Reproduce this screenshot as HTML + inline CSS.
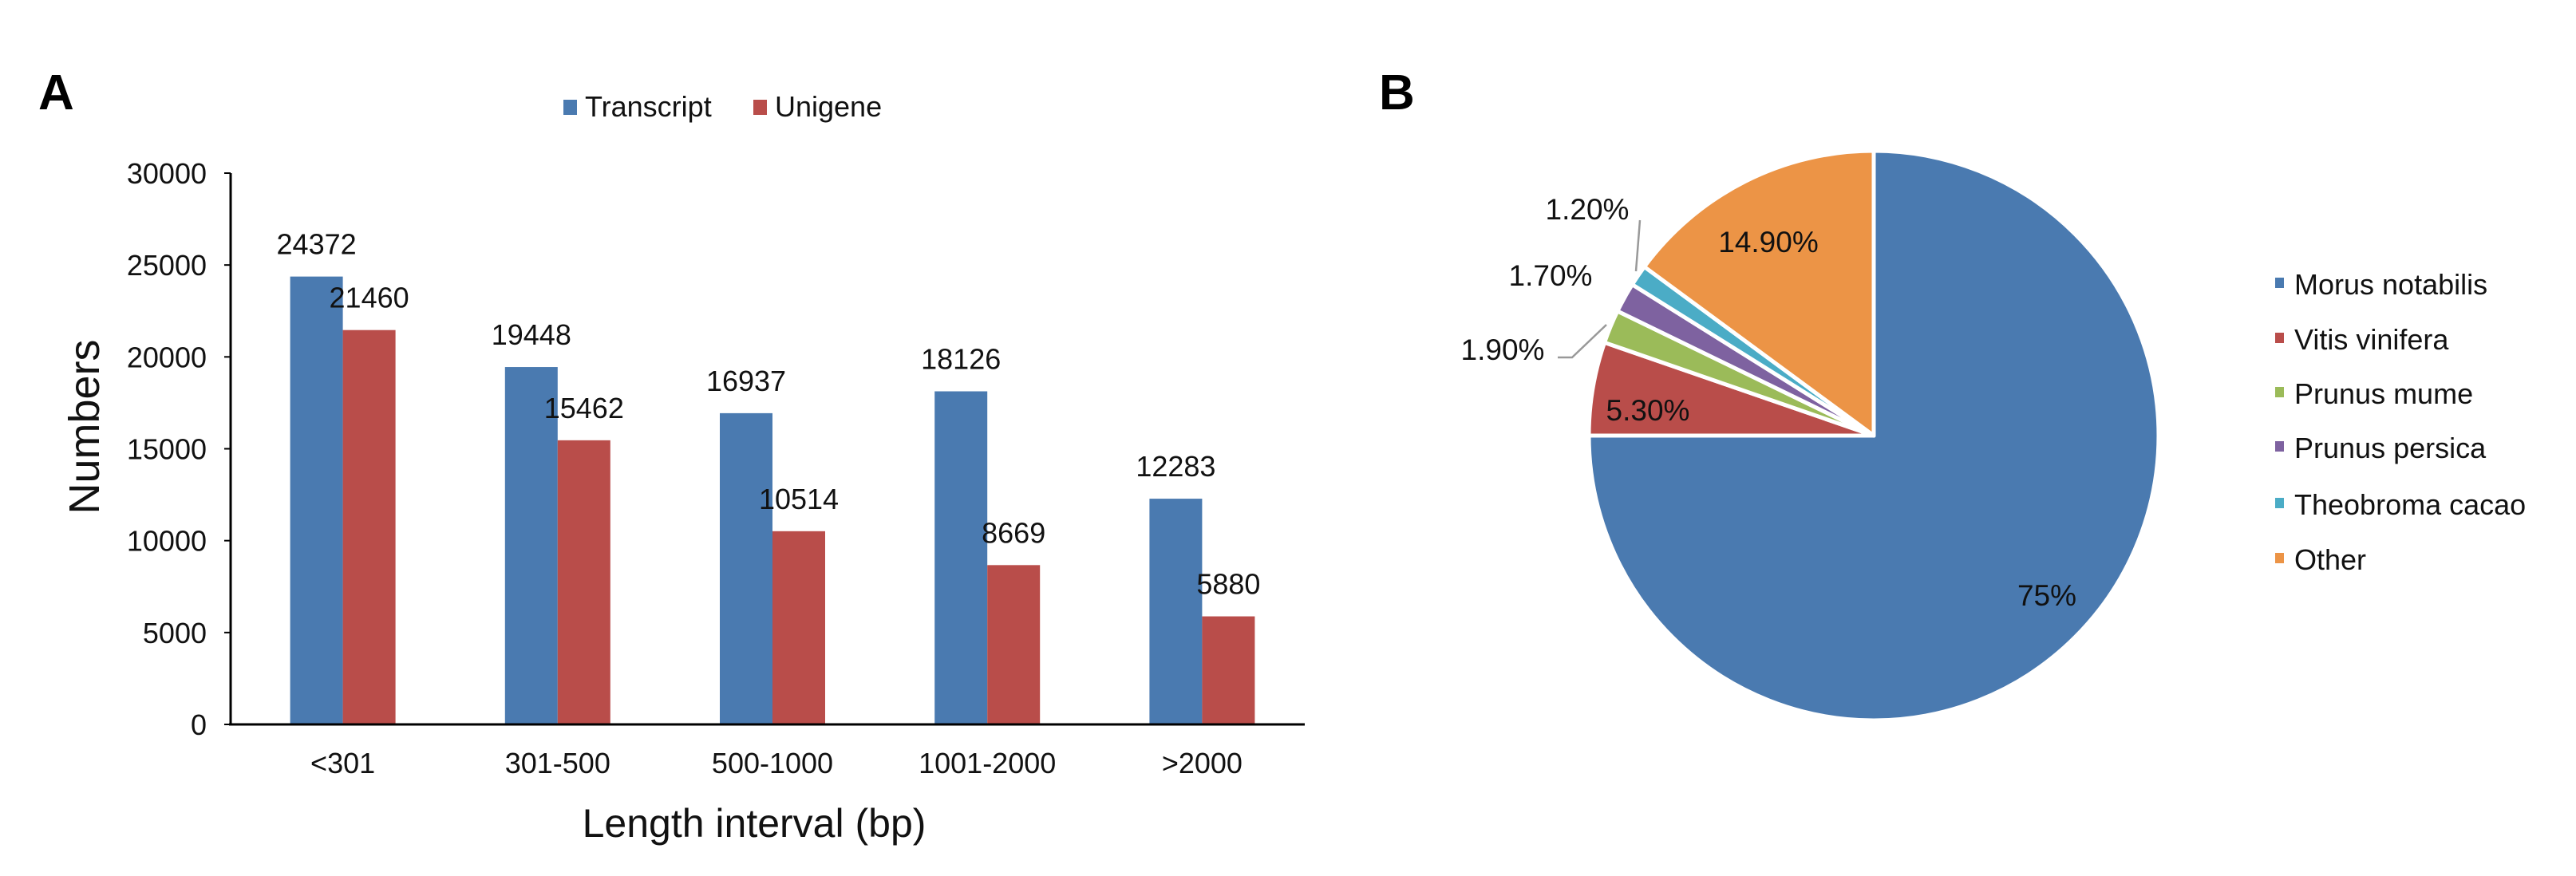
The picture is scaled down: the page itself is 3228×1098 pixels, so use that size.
<!DOCTYPE html>
<html><head><meta charset="utf-8"><style>
body{margin:0;background:#fff;}
svg{display:block;font-family:"Liberation Sans",Arial,sans-serif;}
</style></head><body>
<svg id="fig" width="3228" height="1098" viewBox="0 0 3228 1098" xmlns="http://www.w3.org/2000/svg">
<rect width="3228" height="1098" fill="#fff"/>
<text x="48" y="137" font-size="62" font-weight="bold">A</text>
<text x="1728" y="137" font-size="62" font-weight="bold">B</text>
<g id="bar"></g>
<g id="pie"></g>
</svg>
<script>
const categories = ["<301","301-500","500-1000","1001-2000",">2000"];
const transcript = [24372,19448,16937,18126,12283];
const unigene = [21460,15462,10514,8669,5880];
const yTicks = [0,5000,10000,15000,20000,25000,30000];
const pieLabels = ["Morus notabilis","Vitis vinifera","Prunus mume","Prunus persica","Theobroma cacao","Other"];
const pieValues = [75,5.3,1.9,1.7,1.2,14.9];
const pieText = ["75%","5.30%","1.90%","1.70%","1.20%","14.90%"];
const pieColors = ["#4a7ab0","#b94d4a","#9bbb59","#7e62a0","#4bacc6","#ec9446"];

const NS="http://www.w3.org/2000/svg";
function mk(tag,attrs,parent,text){const e=document.createElementNS(NS,tag);for(const k in attrs)e.setAttribute(k,attrs[k]);if(text!==undefined)e.textContent=text;parent.appendChild(e);return e;}

// ---- bar chart ----
const bg=document.getElementById('bar');
const x0=289,x1=1635,yBase=908,yTop=217,yMax=30000;
const yS=v=>yBase-(v/yMax)*(yBase-yTop);
const band=(x1-x0)/categories.length;
const cx=i=>x0+6+band*(i+0.5);
const bw=66;
for(const t of yTicks){
  const tl=mk('text',{x:259,y:yS(t)+13,'font-size':36,'text-anchor':'end',fill:'#111'},bg,String(t));
  
  
  const tk=mk('line',{x1:281,x2:289,y1:yS(t),y2:yS(t),stroke:'#000','stroke-width':2},bg);
  
  
}
categories.forEach((c,i)=>{
  const b1=mk('rect',{x:cx(i)-bw,y:yS(transcript[i]),width:bw,height:yBase-yS(transcript[i]),fill:'#4a7ab0'},bg);
  
  
  const b2=mk('rect',{x:cx(i),y:yS(unigene[i]),width:bw,height:yBase-yS(unigene[i]),fill:'#b94d4a'},bg);
  
  
  const l1=mk('text',{x:cx(i)-bw/2,y:yS(transcript[i])-28,'font-size':36,'text-anchor':'middle',fill:'#111'},bg,String(transcript[i]));
  
  
  const l2=mk('text',{x:cx(i)+bw/2,y:yS(unigene[i])-28,'font-size':36,'text-anchor':'middle',fill:'#111'},bg,String(unigene[i]));
  
  
  const cl=mk('text',{x:cx(i),y:969,'font-size':36,'text-anchor':'middle',fill:'#111'},bg,c);
  
  
});
const ya=mk('line',{x1:289,x2:289,y1:yTop,y2:yBase,stroke:'#000','stroke-width':3},bg);


const xa=mk('line',{x1:287,x2:x1,y1:yBase,y2:yBase,stroke:'#000','stroke-width':3},bg);


const xt=mk('text',{x:945,y:1049,'font-size':50,'text-anchor':'middle',fill:'#111'},bg,'Length interval (bp)');


const yt=mk('text',{x:0,y:0,'font-size':54,'text-anchor':'middle',fill:'#111',transform:'translate(124,535) rotate(-90)'},bg,'Numbers');


const lg1=mk('rect',{x:706,y:125,width:17,height:19,fill:'#4a7ab0'},bg);


const lt1=mk('text',{x:733,y:146,'font-size':36,fill:'#111'},bg,'Transcript');


const lg2=mk('rect',{x:944,y:125,width:17,height:19,fill:'#b94d4a'},bg);


const lt2=mk('text',{x:971,y:146,'font-size':36,fill:'#111'},bg,'Unigene');



// ---- pie chart ----
const pg=document.getElementById('pie');
const pcx=2348,pcy=546,r=357;
const total=pieValues.reduce((a,b)=>a+b,0);
let acc=0;
const pt=(a,rr)=>[pcx+rr*Math.sin(a),pcy-rr*Math.cos(a)];
pieValues.forEach((v,i)=>{
  const a0=acc/total*2*Math.PI; acc+=v; const a1=acc/total*2*Math.PI;
  const p0=pt(a0,r),p1=pt(a1,r);
  const large=(a1-a0)>Math.PI?1:0;
  const s=mk('path',{d:`M${pcx},${pcy} L${p0[0]},${p0[1]} A${r},${r} 0 ${large} 1 ${p1[0]},${p1[1]} Z`,fill:pieColors[i],stroke:'#fff','stroke-width':5,'stroke-linejoin':'round'},pg);
  
  
});
const labelPos=[[2565,759],[2065,527],[1883,451],[1943,358],[1989,275],[2216,316]];
pieText.forEach((t,i)=>{
  const l=mk('text',{x:labelPos[i][0],y:labelPos[i][1],'font-size':37,'text-anchor':'middle',fill:'#111'},pg,t);
  
  
});
const ld1=mk('polyline',{points:'2055,276 2050,340',fill:'none',stroke:'#999','stroke-width':2.5},pg);


const ld2=mk('polyline',{points:'1952,448 1970,448 2013,407',fill:'none',stroke:'#999','stroke-width':2.5},pg);


const lys=[356,425,493,561,632,701];
pieLabels.forEach((n,i)=>{
  const sw=mk('rect',{x:2851,y:lys[i]-8,width:11,height:13,fill:pieColors[i]},pg);
  
  
  const tx=mk('text',{x:2875,y:lys[i]+13,'font-size':36,fill:'#111'},pg,n);
  
  
});
</script>
</body></html>
